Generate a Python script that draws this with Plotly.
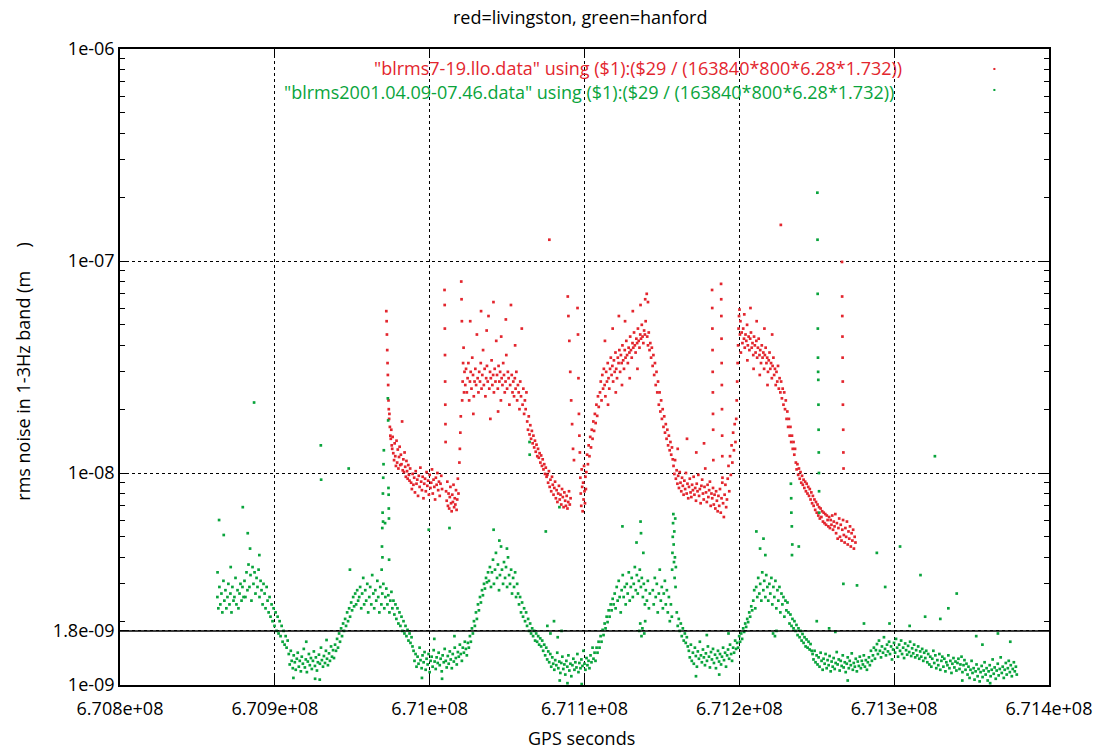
import plotly.graph_objects as go

TITLE = "red=livingston, green=hanford"
RED_LABEL = '"blrms7-19.llo.data" using ($1):($29 / (163840*800*6.28*1.732))'
GREEN_LABEL = '"blrms2001.04.09-07.46.data" using ($1):($29 / (163840*800*6.28*1.732))'
X_TITLE = "GPS seconds"
Y_TITLE = "rms noise in 1-3Hz band (m\u00a0\u00a0\u00a0\u00a0\u00a0)"

X_RANGE = [6.708e8, 6.714e8]
x_tick_vals = [6.708e8, 6.709e8, 6.710e8, 6.711e8, 6.712e8, 6.713e8, 6.714e8]
x_tick_text = ["6.708e+08", "6.709e+08", "6.71e+08", "6.711e+08", "6.712e+08", "6.713e+08", "6.714e+08"]
y_tick_vals = [1e-9, 1.8e-9, 1e-8, 1e-7, 1e-6]
y_tick_text = ["1e-09", "1.8e-09", "1e-08", "1e-07", "1e-06"]
y_minor_vals = [2e-9, 3e-9, 4e-9, 5e-9, 6e-9, 7e-9, 8e-9, 9e-9,
                2e-8, 3e-8, 4e-8, 5e-8, 6e-8, 7e-8, 8e-8, 9e-8,
                2e-7, 3e-7, 4e-7, 5e-7, 6e-7, 7e-7, 8e-7, 9e-7]
THRESHOLD = 1.8e-9

# ---------------- Livingston (red): GPS seconds / rms in nanometres ----------------
red_gps = [
    670972000, 670972200, 670972400, 670972600, 670972800, 670973000, 670973200, 670973400, 670973600, 670973800, 670974000, 670974300, 670974600, 670974900, 670975200, 670975500, 670975800, 670976100,
    670976500, 670977000, 670977400, 670977800, 670978200, 670978600, 670979000, 670979400, 670979800, 670980200, 670980600, 670981000, 670981400, 670981800, 670982200, 670982600, 670983000, 670983400, 670983800, 670984200, 670984600, 670985000, 670985400, 670985800, 670986200, 670986600, 670987000, 670987400,
    670988000, 670988500, 670989000, 670989500, 670990000, 670990500, 670991000, 670991500, 670992000, 670992500, 670993000, 670993500, 670994000, 670994500, 670995000, 670995500, 670996000, 670996500, 670997000, 670997500, 670998000, 670998500, 670999000, 670999500, 671000000, 671000500, 671001000, 671001500, 671002000, 671002500, 671003000, 671003500, 671004000, 671004500, 671005000, 671005500, 671006000, 671006500, 671007000, 671007500, 671008000,
    671009600, 671009700, 671009800, 671009900, 671010000, 671010100, 671010200, 671010300,
    671010600, 671011000, 671011400, 671011800, 671012200, 671012600, 671013000, 671013400, 671013800, 671014200, 671014600, 671015000, 671015400, 671015800, 671016200, 671016600, 671017000, 671017400, 671017800, 671018200, 671018600,
    671019200, 671019500, 671019800, 671020100, 671020400, 671020600, 671020800, 671021000, 671021300, 671021600, 671021900, 671022200, 671022500,
    671023000, 671023500, 671024000, 671024500, 671025000, 671025500, 671026000, 671026500, 671027000, 671027500, 671028000, 671028500, 671029000, 671029500, 671030000, 671030500, 671031000, 671031500, 671032000, 671032500,
    671033000, 671033500, 671034000, 671034500, 671035000, 671035500, 671036000, 671036500, 671037000, 671037500, 671038000, 671038500, 671039000, 671039500, 671040000, 671040500, 671041000, 671041500, 671042000, 671042500,
    671043000, 671043500, 671044000, 671044500, 671045000, 671045500, 671046000, 671046500, 671047000, 671047500, 671048000, 671048500, 671049000, 671049500, 671050000, 671050500, 671051000, 671051500, 671052000, 671052500,
    671053000, 671053500, 671054000, 671054500, 671055000, 671055500, 671056000, 671056500, 671057000, 671057500, 671058000, 671058500, 671059000, 671059500, 671060000, 671060500, 671061000, 671061500, 671062000, 671062500,
    671026200, 671033200, 671036800, 671041200, 671046200, 671049200, 671055200, 671028200, 671044200, 671039200,
    671063000, 671063500, 671064000, 671064500, 671065000, 671065500, 671066000, 671066500, 671067000, 671067500, 671068000, 671068500, 671069000, 671069500, 671070000, 671070500, 671071000, 671071500, 671072000, 671072500, 671073000, 671073500, 671074000, 671074500, 671075000, 671075500,
    671076000, 671076500, 671077000, 671077500, 671078000, 671078500, 671079000, 671079500, 671080000, 671080500, 671081000, 671081500, 671082000, 671082500, 671083000, 671083500, 671084000, 671084500, 671085000, 671085500, 671086000, 671086500, 671087000, 671087500, 671088000, 671088500, 671089000, 671089500, 671090000, 671090500, 671091000,
    671077300,
    671089200, 671089600, 671090200, 671090800, 671091400, 671092000, 671092600, 671093200, 671095500, 671095800, 671096100, 671096400, 671096700, 671097000,
    671097300, 671097600, 671097900, 671098200, 671098500, 671098800, 671099100, 671099400, 671099700, 671100000, 671100300, 671100600, 671100900, 671101200,
    671101700, 671102200, 671102700, 671103200, 671103700, 671104200, 671104700, 671105200, 671105700, 671106200, 671106700, 671107200, 671107700, 671108200, 671108700, 671109200,
    671110000, 671110500, 671111000, 671111500, 671112000, 671112500, 671113000, 671113500, 671114000, 671114500, 671115000, 671115500, 671116000, 671116500, 671117000, 671117500, 671118000, 671118500, 671119000, 671119500,
    671120000, 671120500, 671121000, 671121500, 671122000, 671122500, 671123000, 671123500, 671124000, 671124500, 671125000, 671125500, 671126000, 671126500, 671127000, 671127500, 671128000, 671128500, 671129000, 671129500,
    671130000, 671130500, 671131000, 671131500, 671132000, 671132500, 671133000, 671133500, 671134000, 671134500, 671135000, 671135500, 671136000, 671136500, 671137000, 671137500, 671138000, 671138500, 671139000, 671139500,
    671113200, 671118200, 671122200, 671126200, 671131200, 671136200, 671139200, 671140200, 671141000, 671115200, 671120200, 671124200, 671129200, 671134200,
    671140500, 671141000, 671141500, 671142000, 671142500, 671143000, 671143500, 671144000, 671144500, 671145000, 671145500, 671146000, 671146500, 671147000, 671147500, 671148000, 671148500, 671149000, 671149500, 671150000,
    671150500, 671151000, 671151500, 671152000, 671152500, 671153000, 671153500, 671154000, 671154500, 671155000, 671155500, 671156000, 671156500, 671157000,
    671157500, 671158000, 671158500, 671159000, 671159500, 671160000, 671160500, 671161000, 671161500, 671162000, 671162500, 671163000, 671163500, 671164000, 671164500, 671165000, 671165500, 671166000, 671166500, 671167000,
    671167500, 671168000, 671168500, 671169000, 671169500, 671170000, 671170500, 671171000, 671171500, 671172000, 671172500, 671173000, 671173500, 671174000, 671174500, 671175000, 671175500, 671176000, 671176500, 671177000,
    671177500, 671178000, 671178500, 671179000, 671179500, 671180000, 671180500, 671181000, 671181500, 671182000, 671182500, 671183000, 671183500, 671184000, 671184500, 671185000, 671185500, 671186000, 671186500, 671187000,
    671187500, 671188000, 671188500, 671189000, 671189500, 671190000, 671190500, 671191000, 671191500, 671192000, 671192500, 671193000, 671193500, 671194000, 671194500, 671195000, 671195500, 671196000, 671196500, 671197000,
    671197500,
    671160200, 671166200, 671172200, 671177200, 671183200,
    671182400, 671182500, 671182600, 671182700, 671182800, 671182900, 671183000, 671183100,
    671188200, 671188300, 671188400, 671188500, 671188600, 671188700, 671188800, 671188900, 671189000, 671189100,
    671198000, 671198300, 671198600, 671198900, 671199200, 671199500, 671199800, 671200100, 671200400, 671200700, 671201000,
    671201500, 671202000, 671202500, 671203000, 671203500, 671204000, 671204500, 671205000, 671205500, 671206000, 671206500, 671207000, 671207500, 671208000, 671208500, 671209000, 671209500, 671210000, 671210500, 671211000,
    671211500, 671212000, 671212500, 671213000, 671213500, 671214000, 671214500, 671215000, 671215500, 671216000, 671216500, 671217000, 671217500, 671218000, 671218500, 671219000, 671219500, 671220000, 671220500, 671221000,
    671221500, 671222000, 671222500, 671223000, 671223500, 671224000, 671224500, 671225000, 671225500, 671226000, 671226500, 671227000, 671227500, 671228000, 671228500, 671229000,
    671203200, 671207200, 671211200, 671216200, 671221200, 671205200, 671209200, 671213200, 671218200,
    671226800,
    671229500, 671230000, 671230500, 671231000, 671231500, 671232000, 671232500, 671233000, 671233500, 671234000, 671234500, 671235000, 671235500, 671236000,
    671236500, 671237000, 671237500, 671238000, 671238500, 671239000, 671239500, 671240000, 671240500, 671241000, 671241500, 671242000, 671242500, 671243000, 671243500, 671244000, 671244500, 671245000, 671245500, 671246000, 671246500, 671247000,
    671247500, 671248000, 671248500, 671249000, 671249500, 671250000, 671250500, 671251000, 671251500, 671252000, 671252500, 671253000, 671253500, 671254000, 671254500, 671255000, 671255500, 671256000, 671256500, 671257000,
    671257500, 671258000, 671258500, 671259000, 671259500, 671260000, 671260500, 671261000,
    671261500, 671262000, 671262500, 671263000, 671263500, 671264000, 671264500, 671265000, 671265500, 671266000, 671266500, 671267000, 671267500, 671268000, 671268500, 671269000, 671269500, 671270000, 671270500, 671271000,
    671271500, 671272000, 671272500, 671273000, 671273500, 671274000, 671274500, 671275000,
    671266300, 671266400, 671266500, 671266600, 671266700, 671266800, 671266900, 671267100, 671267200, 671267300,
]
red_rms_nm = [
    58, 52, 45, 38, 33, 29, 26, 22, 20, 18, 19, 16.5, 15, 14.5, 16, 13.5, 13, 14.8,
    12.4, 11.5, 13.8, 12.0, 10.8, 14.2, 11.2, 12.9, 10.5, 11.9, 13.3, 10.9, 12.2, 11.0, 17.5, 10.3, 11.6, 10.1, 12.5, 10.7, 9.6, 11.4, 10.2, 9.4, 10.9, 9.8, 9.2, 10.5,
    9.0, 8.4, 9.9, 8.8, 9.5, 8.1, 10.2, 8.9, 9.3, 7.8, 9.7, 8.6, 10.6, 9.1, 8.3, 9.6, 7.6, 8.9, 9.4, 8.2, 10.1, 8.7, 9.2, 7.9, 9.8, 8.5, 9.0, 10.4, 8.0, 9.3, 8.6, 7.5, 9.5, 8.8, 10.0, 8.3, 9.1, 7.8, 8.9, 9.7, 8.4,
    73, 62, 48, 36, 27, 21, 17, 14,
    8.2, 7.4, 9.1, 7.0, 8.0, 6.8, 7.7, 8.6, 7.2, 6.6, 7.9, 7.3, 8.8, 6.9, 7.6, 7.1, 8.3, 6.7, 7.5, 9.4, 8.0,
    11.2, 13.0, 15.5, 18.5, 80, 66, 52, 22, 27, 33, 39, 24, 30,
    26, 31, 24, 28, 33, 22, 27, 30, 25, 35, 29, 23, 27, 31, 26, 45, 28, 24, 30, 27,
    33, 25, 29, 38, 26, 31, 23, 28, 32, 27, 55, 25, 30, 28, 34, 26, 29, 24, 31, 27,
    42, 29, 25, 32, 27, 30, 22, 28, 26, 33, 29, 24, 27, 36, 25, 30, 28, 21, 26, 62,
    29, 24, 27, 23, 28, 25, 30, 22, 26, 24, 20, 27, 23, 48, 21, 25, 19, 22, 20, 24,
    52, 58, 47, 64, 44, 53, 40, 19, 19.5, 18,
    17.5, 16.0, 18.5, 15.2, 16.8, 14.5, 15.8, 13.8, 15.0, 13.2, 14.2, 12.6, 13.6, 12.0, 13.0, 11.8, 12.4, 11.2, 12.1, 10.8, 11.6, 10.4, 11.0, 9.9, 10.6, 9.6,
    9.8, 9.0, 10.2, 8.6, 9.3, 8.2, 9.6, 8.8, 7.9, 8.5, 9.1, 7.6, 8.3, 7.3, 8.0, 8.7, 7.5, 7.9, 7.1, 8.4, 7.7, 6.9, 8.1, 7.4, 7.0, 7.8, 6.8, 7.3, 8.2, 7.1, 7.6,
    126,
    68, 55, 42, 30, 22, 17, 13, 11.5, 60, 45, 28, 19, 15, 12.5,
    9.5, 8.0, 7.0, 10.4, 8.6, 6.6, 9.0, 7.5, 10.8, 8.2, 7.2, 9.6, 8.4, 10.1,
    12.2, 11.0, 13.5, 12.0, 14.8, 13.2, 16.0, 14.5, 17.5, 15.8, 19.0, 17.2, 21.0, 18.6, 23.0, 20.5,
    24, 27, 22, 29, 25, 31, 26, 23, 30, 27, 33, 28, 25, 31, 35, 29, 32, 27, 34, 30,
    37, 31, 28, 35, 33, 38, 30, 36, 33, 40, 34, 31, 38, 35, 42, 36, 33, 39, 37, 44,
    38, 35, 41, 39, 46, 40, 37, 43, 41, 48, 42, 39, 45, 43, 50, 44, 41, 47, 45, 52,
    42, 48, 55, 52, 58, 62, 66, 70, 64, 21, 24, 26, 28, 31,
    44, 40, 46, 38, 41, 35, 39, 32, 36, 29, 33, 26, 30, 24, 27, 21, 24, 19.5, 22, 18,
    20, 16.5, 18.5, 15.5, 17, 14.5, 16, 13.5, 15, 12.8, 14, 12.2, 13.2, 11.6,
    10.8, 9.9, 11.5, 9.4, 10.3, 8.9, 9.7, 8.5, 10.1, 9.0, 8.2, 9.5, 8.7, 7.9, 9.2, 8.4, 10.0, 8.0, 8.9, 7.6,
    8.6, 9.4, 8.1, 7.7, 8.8, 8.3, 9.6, 7.9, 8.5, 7.4, 8.9, 8.2, 9.8, 7.8, 8.4, 7.2, 8.7, 9.3, 8.0, 7.5,
    8.6, 10.5, 8.1, 7.3, 8.8, 7.7, 8.3, 9.1, 7.0, 8.0, 7.6, 8.5, 7.1, 7.9, 6.8, 8.2, 7.4, 6.6, 7.8, 7.0,
    8.4, 6.5, 7.6, 9.0, 7.2, 6.2, 7.9, 8.8, 6.9, 7.5, 9.4, 10.8, 8.2, 12.0, 9.8, 13.5, 11.2, 15.5, 12.8, 17.0,
    14.0,
    13, 14.5, 12.5, 13.8, 11.5,
    73, 60, 48, 38, 30, 24, 19, 16,
    78, 66, 55, 43, 33, 26, 20, 15, 12, 9.5,
    18, 22, 27, 33, 40, 48, 55, 59, 45, 52, 37,
    46, 41, 48, 43, 39, 45, 42, 50, 40, 44, 38, 43, 46, 39, 41, 36, 44, 40, 37, 42,
    35, 39, 43, 36, 38, 33, 40, 35, 37, 31, 36, 39, 33, 35, 30, 34, 37, 31, 33, 28,
    32, 35, 29, 31, 26, 30, 27, 32, 25, 28, 24, 27, 22.5, 25, 21, 24,
    56, 60, 52, 48, 45, 34, 31, 29, 26,
    148,
    20, 22, 18, 19.5, 16.5, 18, 15, 16.5, 14, 15, 13, 14, 12.2, 13,
    11.2, 10.4, 11.0, 9.8, 10.5, 9.4, 10.1, 9.0, 9.7, 8.8, 9.3, 8.5, 9.1, 8.2, 8.9, 8.0, 8.6, 7.8, 8.4, 7.5, 8.1, 7.2,
    7.8, 7.0, 7.5, 6.7, 7.3, 6.5, 7.1, 6.3, 6.9, 6.1, 6.8, 6.2, 6.6, 5.9, 6.5, 5.8, 6.4, 5.7, 6.3, 6.0,
    5.6, 6.2, 5.5, 6.0, 5.7, 6.3, 5.4, 5.9,
    5.6, 6.4, 5.2, 5.8, 4.9, 5.5, 6.1, 5.0, 5.7, 4.8, 5.4, 6.0, 5.1, 4.7, 5.5, 5.0, 5.9, 4.6, 5.3, 4.9,
    5.6, 4.5, 5.2, 4.8, 5.4, 4.4, 5.0, 4.7,
    99, 68, 55, 44, 35, 27, 21, 16, 12.5, 10.5,
]

# ---------------- Hanford (green): GPS seconds / rms in nanometres ----------------
green_gps = [
    670862900, 670863500, 670864200, 670864800, 670865500, 670866100, 670866800, 670867400, 670868100, 670868700, 670869400, 670870000, 670870700, 670871300, 670872000, 670872600, 670873300, 670873900, 670874600, 670875200, 670875900, 670876500, 670877200, 670877800, 670878500, 670879100, 670879800,
    670864000, 670867000, 670871500, 670863000,
    670880400, 670881000, 670881700, 670882300, 670883000, 670883600, 670884300, 670884900, 670885600, 670886200, 670886900, 670887500, 670888200, 670888800, 670889500, 670890100, 670890800, 670891400, 670892100, 670892700, 670893400, 670894000, 670894700, 670895300, 670896000,
    670879300, 670886600, 670884000, 670890000, 670882500,
    670896600, 670897200, 670897900, 670898500, 670899200, 670899800, 670900500, 670901100, 670901800, 670902400, 670903100, 670903700, 670904400, 670905000, 670905700, 670906300, 670907000, 670907600, 670908300,
    670909000, 670909600, 670910300, 670910900, 670911600, 670912200, 670912900, 670913500, 670914200, 670914800, 670915500, 670916100, 670916800, 670917400, 670918100, 670918700, 670919400, 670920000, 670920700, 670921300,
    670922000, 670922600, 670923300, 670923900, 670924600, 670925200, 670925900, 670926500, 670927200, 670927800, 670928500, 670929100, 670929800, 670930400, 670931100, 670931700, 670932400, 670933000, 670933700, 670934300,
    670935000, 670935600, 670936300, 670936900, 670937600, 670938200,
    670912000, 670920300, 670926000, 670933400, 670929000, 670929700, 670929900,
    670938900, 670939500, 670940200, 670940800, 670941500, 670942100, 670942800, 670943400, 670944100, 670944700, 670945400, 670946000, 670946700, 670947300, 670948000, 670948600, 670949300, 670949900, 670950600, 670951200, 670951900, 670952500, 670953200, 670953800,
    670947700, 670948500,
    670954500, 670955100, 670955800, 670956400, 670957100, 670957700, 670958400, 670959000, 670959700, 670960300, 670961000, 670961600, 670962300, 670962900, 670963600, 670964200, 670964900, 670965500, 670966200, 670966800,
    670967500, 670968100, 670968800, 670969400, 670970100, 670970700, 670971400, 670972000, 670972700, 670973300, 670974000, 670974600, 670975300, 670975900,
    670969000, 670969200, 670969400, 670969600, 670969800, 670970000, 670970200, 670970400, 670969500, 670969900,
    670973000, 670973200, 670973400, 670973500, 670973600, 670973700, 670973800, 670971200,
    670976600, 670977200, 670977900, 670978500, 670979200, 670979800, 670980500, 670981100, 670981800, 670982400, 670983100, 670983700, 670984400, 670985000, 670985700, 670986300, 670987000, 670987600, 670988300, 670988900,
    670989600, 670990200, 670990900, 670991500, 670992200, 670992800, 670993500, 670994100, 670994800, 670995400, 670996100, 670996700, 670997400, 670998000, 670998700, 670999300, 671000000, 671000600, 671001300, 671001900,
    671002600, 671003200, 671003900, 671004500, 671005200, 671005800, 671006500, 671007100, 671007800, 671008400, 671009100, 671009700, 671010400, 671011000, 671011700, 671012300, 671013000, 671013600, 671014300, 671014900,
    671015600, 671016200, 671016900, 671017500, 671018200, 671018800, 671019500, 671020100, 671020800, 671021400, 671022100, 671022700, 671023400, 671024000, 671024700, 671025300,
    670999400, 671012800, 670995000, 671008000, 671016000, 671003000,
    671026000, 671026600, 671027300, 671027900, 671028600, 671029200, 671029900, 671030500, 671031200, 671031800, 671032500, 671033100, 671033800, 671034400, 671035100, 671035700, 671036400, 671037000, 671037700,
    671038300, 671038900, 671039600, 671040200, 671040900, 671041500, 671042200, 671042800, 671043500, 671044100, 671044800, 671045400, 671046100, 671046700, 671047400, 671048000, 671048700, 671049300, 671050000, 671050600,
    671051300, 671051900, 671052600, 671053200, 671053900, 671054500, 671055200, 671055800, 671056500,
    671041300, 671045000, 671049900,
    671057100, 671057700, 671058400, 671059000, 671059700, 671060300, 671061000, 671061600, 671062300, 671062900, 671063600, 671064200, 671064900, 671065500, 671066200, 671066800, 671067500, 671068100, 671068800, 671069400, 671070100, 671070700, 671071400, 671072000,
    671064500, 671064600, 671075000, 671083800,
    671072700, 671073300, 671074000, 671074600, 671075300, 671075900, 671076600, 671077200, 671077900, 671078500, 671079200, 671079800, 671080500, 671081100, 671081800, 671082400, 671083100, 671083700, 671084400, 671085000,
    671085700, 671086300, 671087000, 671087600, 671088300, 671088900, 671089600, 671090200, 671090900, 671091500, 671092200, 671092800, 671093500, 671094100, 671094800, 671095400, 671096100, 671096700, 671097400, 671098000,
    671098700, 671099300, 671100000, 671100600, 671101300, 671101900, 671102600, 671103200, 671103900, 671104500, 671105200, 671105800, 671106500, 671107100,
    671076000, 671078000, 671080300, 671082700, 671085200, 671089000, 671098200, 671084000,
    671107800, 671108400, 671109100, 671109700, 671110400, 671111000, 671111700, 671112300, 671113000, 671113600, 671114300, 671114900, 671115600, 671116200, 671116900, 671117500, 671118200, 671118800,
    671119500, 671120100, 671120800, 671121400, 671122100, 671122700, 671123400, 671124000, 671124700, 671125300, 671126000, 671126600, 671127300, 671127900, 671128600, 671129200, 671129900, 671130500, 671131200, 671131800,
    671132500, 671133100, 671133800, 671134400, 671135100, 671135700, 671136400, 671137000, 671137700, 671138300, 671139000, 671139600, 671140300, 671140900, 671141600, 671142200,
    671135400, 671136000, 671136800, 671137400, 671138600, 671139200,
    671124500, 671136200, 671136500, 671133600, 671138000,
    671144100, 671144700, 671145400, 671146000, 671146700, 671147300, 671148000, 671148600, 671149300, 671149900, 671150600, 671151200, 671151900, 671152500, 671153200, 671153800, 671154500, 671155100, 671155800, 671156400,
    671156600, 671156800, 671157000, 671157200, 671157400, 671157600, 671157800, 671158000, 671158200, 671158400, 671158600, 671158800, 671159000,
    671159600, 671160200, 671160900, 671161500, 671162200, 671162800, 671163500, 671164100, 671164800, 671165400, 671166100, 671166700,
    671167400, 671168000, 671168700, 671169300, 671170000, 671170600, 671171300, 671171900, 671172600, 671173200, 671173900, 671174500, 671175200, 671175800, 671176500, 671177100, 671177800, 671178400, 671179100, 671179700,
    671180400, 671181000, 671181700, 671182300, 671183000, 671183600, 671184300, 671184900, 671185600, 671186200, 671186900, 671187500, 671188200, 671188800, 671189500, 671190100, 671190800, 671191400, 671192100, 671192700,
    671193400, 671194000, 671194700, 671195300, 671196000, 671196600, 671197300, 671197900, 671198600, 671199200, 671199900, 671200500,
    671172000, 671179000, 671187000, 671193000,
    671201200, 671201800, 671202500, 671203100, 671203800, 671204400, 671205100, 671205700, 671206400, 671207000, 671207700, 671208300,
    671209000, 671209600, 671210300, 671210900, 671211600, 671212200, 671212900, 671213500, 671214200, 671214800, 671215500, 671216100, 671216800, 671217400, 671218100, 671218700, 671219400, 671220000, 671220700, 671221300,
    671222000, 671222600, 671223300, 671223900, 671224600, 671225200, 671225900, 671226500, 671227200, 671227800, 671228500, 671229100, 671229800, 671230400, 671231100,
    671221800, 671223000, 671224000,
    671211000, 671213400, 671215600, 671216800,
    671233300, 671233500, 671233600, 671233900, 671234000, 671234200, 671238400,
    671231700, 671232400, 671233000, 671233700, 671234300, 671235000, 671235600, 671236300, 671236900, 671237600, 671238200, 671238900, 671239500, 671240200, 671240800, 671241500, 671242100, 671242800, 671243400, 671244100,
    671244700, 671245400, 671246000, 671246700,
    671247300, 671247900, 671248600, 671249200, 671249900, 671250500, 671251200, 671251800, 671252500, 671253100, 671253800, 671254400, 671255100, 671255700, 671256400, 671257000, 671257700, 671258300, 671259000, 671259600,
    671260300, 671260900, 671261600, 671262200, 671262900, 671263500, 671264200, 671264800, 671265500, 671266100, 671266800, 671267400, 671268100, 671268700, 671269400, 671270000, 671270700, 671271300, 671272000, 671272600,
    671273300, 671273900, 671274600, 671275200, 671275900, 671276500, 671277200, 671277800, 671278500, 671279100, 671279800, 671280400, 671281100, 671281700, 671282400, 671283000, 671283700, 671284300, 671285000, 671285600,
    671286300, 671286900, 671287600, 671288200, 671288900, 671289500, 671290200, 671290800, 671291500, 671292100, 671292800, 671293400, 671294100, 671294700, 671295400, 671296000, 671296700, 671297300, 671298000, 671298600,
    671299300, 671299900, 671300600, 671301200, 671301900, 671302500, 671303200, 671303800, 671304500, 671305100, 671305800, 671306400, 671307100, 671307700, 671308400, 671309000, 671309700, 671310300, 671311000, 671311600,
    671312300, 671312900, 671313600, 671314200, 671314900, 671315500, 671316200, 671316800, 671317500, 671318100, 671318800, 671319400, 671320100, 671320700,
    671321400, 671322000, 671322700, 671323300, 671324000, 671324600, 671325300, 671325900, 671326600, 671327200, 671327900, 671328500, 671329200, 671329800, 671330500, 671331100, 671331800, 671332400, 671333100, 671333700,
    671334400, 671335000, 671335700, 671336300, 671337000, 671337600, 671338300, 671338900, 671339600, 671340200, 671340900, 671341500, 671342200, 671342800, 671343500, 671344100, 671344800, 671345400, 671346100, 671346700,
    671347400, 671348000, 671348700, 671349300, 671350000, 671350600, 671351300, 671351900, 671352600, 671353200, 671353900, 671354500, 671355200, 671355800, 671356500, 671357100, 671357800, 671358400, 671359100, 671359700,
    671360400, 671361000, 671361700, 671362300, 671363000, 671363600, 671364300, 671364900, 671365600, 671366200, 671366900, 671367500, 671368200, 671368800, 671369500, 671370100, 671370800, 671371400, 671372100, 671372700,
    671373400, 671374000, 671374700, 671375300, 671376000, 671376600, 671377300, 671377900, 671378600, 671379200,
    671250400, 671250500, 671250600, 671250700, 671250800, 671250900, 671251000, 671251100, 671251200, 671251300, 671251400, 671251500, 671251600,
    671303800, 671326300, 671340400, 671294200, 671276000, 671267200, 671258000, 671297000, 671310000, 671320000,
    671353000, 671367000, 671335000, 671357000, 671375000, 671344000, 671362000, 671270000, 671262000, 671280500,
    671317000, 671329800, 671288800, 671250000,
]
green_rms_nm = [
    2.6, 2.3, 2.9, 2.4, 2.7, 2.2, 3.1, 2.5, 2.8, 2.3, 2.6, 3.0, 2.4, 2.7, 2.2, 2.9, 2.5, 2.6, 3.2, 2.4, 2.8, 2.3, 2.7, 3.0, 2.5, 2.9, 2.6,
    6.0, 5.1, 3.6, 3.4,
    3.1, 2.6, 3.4, 2.8, 3.7, 2.9, 3.3, 2.5, 3.6, 3.0, 3.4, 2.7, 3.2, 2.9, 3.5, 2.6, 3.1, 2.8, 2.4, 3.0, 2.7, 2.3, 2.9, 2.5, 2.2,
    6.9, 21.5, 4.4, 4.1, 5.2,
    2.6, 2.1, 2.4, 2.0, 2.3, 1.9, 2.2, 1.8, 2.1, 1.75, 2.0, 1.7, 1.9, 1.6, 1.8, 1.55, 1.7, 1.5, 1.62,
    1.4, 1.25, 1.45, 1.3, 1.2, 1.38, 1.28, 1.18, 1.33, 1.42, 1.22, 1.3, 1.16, 1.36, 1.26, 1.48, 1.21, 1.32, 1.15, 1.29,
    1.4, 1.24, 1.34, 1.19, 1.3, 1.44, 1.23, 1.35, 1.17, 1.28, 1.39, 1.26, 1.5, 1.31, 1.22, 1.37, 1.27, 1.45, 1.33, 1.24,
    1.41, 1.3, 1.52, 1.36, 1.46, 1.34,
    1.08, 1.6, 1.07, 1.63, 1.06, 13.5, 9.3,
    1.55, 1.45, 1.65, 1.5, 1.75, 1.6, 1.85, 1.7, 1.95, 1.8, 2.05, 1.9, 2.2, 2.0, 2.3, 2.1, 2.45, 2.25, 2.6, 2.35, 2.7, 2.4, 2.8, 2.5,
    10.5, 3.5,
    2.6, 2.9, 2.3, 2.7, 3.2, 2.4, 2.8, 2.5, 3.0, 2.2, 2.6, 2.9, 2.4, 3.3, 2.7, 2.3, 2.8, 2.5, 3.1, 2.6,
    2.2, 2.9, 2.4, 2.7, 3.0, 2.3, 2.6, 2.85, 2.4, 2.65, 2.2, 2.5, 2.75, 2.3,
    3.5, 4.5, 5.5, 6.5, 8.0, 9.5, 11.0, 12.8, 4.0, 5.9,
    22.5, 17.7, 8.5, 7.9, 6.8, 6.1, 3.9, 5.8,
    2.5, 2.15, 2.4, 2.05, 2.3, 1.95, 2.2, 1.9, 2.1, 1.8, 2.0, 1.75, 1.9, 1.7, 1.82, 1.62, 1.75, 1.58, 1.68, 1.52,
    1.45, 1.3, 1.4, 1.22, 1.36, 1.26, 1.5, 1.31, 1.2, 1.38, 1.28, 1.43, 1.18, 1.33, 1.25, 1.4, 1.15, 1.3, 1.36, 1.22,
    1.46, 1.29, 1.19, 1.35, 1.27, 1.42, 1.24, 1.33, 1.16, 1.38, 1.28, 1.48, 1.3, 1.21, 1.37, 1.26, 1.44, 1.32, 1.2, 1.4,
    1.29, 1.5, 1.34, 1.25, 1.43, 1.36, 1.55, 1.4, 1.3, 1.5, 1.42, 1.6, 1.48, 1.38, 1.58, 1.5,
    5.4, 5.5, 1.08, 1.07, 1.7, 1.65,
    1.7, 1.6, 1.85, 1.75, 2.0, 1.9, 2.2, 2.05, 2.4, 2.25, 2.6, 2.45, 2.8, 2.65, 3.0, 2.85, 3.2, 3.05, 3.4,
    3.1, 3.6, 2.9, 3.4, 3.9, 3.0, 3.5, 4.2, 3.2, 3.7, 2.8, 3.3, 4.5, 3.5, 3.0, 3.8, 3.2, 3.6, 2.9, 4.0,
    3.3, 3.0, 3.5, 2.7, 3.2, 2.9, 3.4, 2.6, 3.0,
    5.4, 4.8, 4.4,
    2.7, 2.4, 2.6, 2.2, 2.45, 2.1, 2.3, 2.0, 2.2, 1.9, 2.05, 1.8, 1.95, 1.75, 1.85, 1.7, 1.8, 1.62, 1.75, 1.6, 1.7, 1.55, 1.66, 1.52,
    14.0, 12.2, 5.3, 6.9,
    1.62, 1.45, 1.55, 1.38, 1.5, 1.32, 1.44, 1.28, 1.4, 1.22, 1.35, 1.26, 1.18, 1.31, 1.24, 1.42, 1.2, 1.29, 1.14, 1.27,
    1.36, 1.19, 1.25, 1.12, 1.3, 1.22, 1.38, 1.17, 1.26, 1.1, 1.24, 1.33, 1.18, 1.28, 1.21, 1.4, 1.15, 1.27, 1.2, 1.32,
    1.23, 1.45, 1.26, 1.18, 1.34, 1.24, 1.3, 1.2, 1.38, 1.28, 1.5, 1.33, 1.42, 1.3,
    1.9, 1.75, 2.0, 1.68, 1.8, 1.02, 1.01, 1.05,
    1.5, 1.42, 1.6, 1.5, 1.7, 1.6, 1.82, 1.72, 1.95, 1.85, 2.1, 1.98, 2.25, 2.1, 2.4, 2.25, 2.55, 2.4,
    2.7, 2.3, 2.9, 2.5, 3.1, 2.6, 2.2, 2.8, 3.3, 2.6, 2.9, 2.4, 3.0, 2.7, 3.4, 2.5, 2.9, 3.2, 2.6, 3.0,
    3.6, 2.8, 3.3, 2.7, 3.1, 3.5, 2.9, 3.2, 2.6, 3.0, 2.4, 2.8, 2.5, 3.1, 2.3, 2.7,
    1.8, 1.95, 1.7, 1.85, 1.75, 2.0,
    5.6, 5.9, 5.2, 4.7, 4.2,
    2.8, 2.4, 3.2, 2.6, 3.0, 2.2, 2.7, 3.5, 2.5, 2.9, 2.3, 2.7, 3.1, 2.4, 2.8, 2.2, 2.6, 2.0, 2.4, 2.1,
    3.5, 4.2, 5.0, 5.8, 6.4, 4.6, 3.8, 5.3, 3.2, 4.0, 6.1, 2.9, 3.6,
    2.2, 1.9, 2.05, 1.8, 1.95, 1.7, 1.85, 1.62, 1.75, 1.58, 1.68, 1.52,
    1.45, 1.35, 1.55, 1.3, 1.42, 1.26, 1.5, 1.37, 1.22, 1.44, 1.33, 1.6, 1.38, 1.28, 1.47, 1.35, 1.24, 1.41, 1.3, 1.52,
    1.36, 1.21, 1.43, 1.32, 1.48, 1.27, 1.39, 1.2, 1.34, 1.45, 1.29, 1.4, 1.25, 1.36, 1.5, 1.31, 1.42, 1.22, 1.38, 1.47,
    1.33, 1.55, 1.4, 1.3, 1.5, 1.42, 1.62, 1.48, 1.58, 1.5, 1.7, 1.6,
    1.1, 1.72, 1.12, 1.75,
    1.75, 1.65, 1.85, 1.78, 1.95, 1.88, 2.05, 1.98, 2.2, 2.1, 2.35, 2.25,
    2.5, 2.8, 2.3, 2.9, 2.6, 3.2, 2.7, 3.0, 2.5, 3.4, 2.8, 3.1, 2.6, 3.3, 2.9, 2.5, 3.0, 2.7, 3.2, 2.4,
    2.9, 2.6, 3.1, 2.3, 2.8, 2.5, 2.9, 2.2, 2.7, 2.4, 2.6, 2.1, 2.5, 2.25, 2.45,
    1.75, 1.7, 1.8,
    5.3, 4.4, 4.9, 4.1,
    8.9, 7.6, 6.5, 5.6, 4.1, 4.6, 4.5,
    2.2, 1.95, 2.15, 1.9, 2.05, 1.85, 2.0, 1.8, 1.92, 1.72, 1.85, 1.68, 1.8, 1.62, 1.74, 1.58, 1.68, 1.52, 1.64, 1.5,
    1.6, 1.47, 1.56, 1.45,
    1.4, 1.32, 1.45, 1.28, 1.38, 1.25, 1.35, 1.22, 1.42, 1.3, 1.18, 1.33, 1.26, 1.4, 1.2, 1.31, 1.24, 1.37, 1.16, 1.29,
    1.22, 1.34, 1.19, 1.27, 1.43, 1.25, 1.32, 1.17, 1.3, 1.23, 1.38, 1.21, 1.28, 1.15, 1.26, 1.35, 1.2, 1.3, 1.24, 1.41,
    1.18, 1.27, 1.22, 1.33, 1.16, 1.29, 1.23, 1.36, 1.2, 1.3, 1.25, 1.38, 1.22, 1.31, 1.18, 1.28, 1.35, 1.24, 1.45, 1.3,
    1.38, 1.5, 1.33, 1.46, 1.56, 1.4, 1.62, 1.45, 1.35, 1.52, 1.42, 1.68, 1.48, 1.38, 1.55, 1.44, 1.6, 1.4, 1.52, 1.32,
    1.47, 1.58, 1.42, 1.65, 1.5, 1.36, 1.55, 1.45, 1.62, 1.4, 1.5, 1.34, 1.57, 1.46, 1.39, 1.53, 1.43, 1.6, 1.37, 1.49,
    1.41, 1.55, 1.35, 1.46, 1.38, 1.52, 1.33, 1.44, 1.36, 1.48, 1.3, 1.42, 1.34, 1.45,
    1.28, 1.4, 1.25, 1.36, 1.22, 1.33, 1.45, 1.27, 1.38, 1.2, 1.31, 1.24, 1.4, 1.18, 1.3, 1.36, 1.22, 1.33, 1.16, 1.28,
    1.24, 1.38, 1.2, 1.3, 1.14, 1.26, 1.34, 1.21, 1.29, 1.17, 1.27, 1.33, 1.19, 1.25, 1.36, 1.15, 1.24, 1.31, 1.18, 1.26,
    1.12, 1.22, 1.08, 1.18, 1.3, 1.14, 1.2, 1.06, 1.16, 1.25, 1.1, 1.19, 1.04, 1.15, 1.23, 1.09, 1.17, 1.28, 1.12, 1.2,
    1.05, 1.16, 1.24, 1.1, 1.18, 1.32, 1.13, 1.21, 1.07, 1.17, 1.26, 1.11, 1.19, 1.35, 1.14, 1.22, 1.08, 1.18, 1.27, 1.12,
    1.2, 1.3, 1.15, 1.24, 1.1, 1.19, 1.28, 1.16, 1.22, 1.12,
    210, 126, 70, 48, 35, 30, 27.5, 21, 16, 12.5, 10, 8.2, 6.5,
    4.5, 12.0, 2.7, 2.9, 2.95, 3.0, 1.85, 1.95, 1.9, 2.1,
    1.7, 1.75, 2.3, 1.55, 1.6, 1.05, 1.02, 1.05, 1.78, 1.95,
    3.3, 2.05, 4.2, 2.0,
]

assert len(red_gps) == len(red_rms_nm), (len(red_gps), len(red_rms_nm))
assert len(green_gps) == len(green_rms_nm), (len(green_gps), len(green_rms_nm))

NM = 1e-9
red_rms = [v * NM for v in red_rms_nm]
green_rms = [v * NM for v in green_rms_nm]

RED = "#e3262e"
GREEN = "#09a43c"
FONT = "Open Sans"

fig = go.Figure()
fig.add_trace(go.Scatter(x=red_gps, y=red_rms, mode="markers", showlegend=False,
                         marker=dict(symbol="square", size=2.7, color=RED, line=dict(width=0))))
fig.add_trace(go.Scatter(x=green_gps, y=green_rms, mode="markers", showlegend=False,
                         marker=dict(symbol="square", size=2.7, color=GREEN, line=dict(width=0))))
fig.add_trace(go.Scatter(x=X_RANGE, y=[THRESHOLD, THRESHOLD], mode="lines", showlegend=False,
                         line=dict(color="black", width=1.5), hoverinfo="skip"))

axis_common = dict(
    showline=True, linecolor="black", linewidth=1.5, mirror="ticks",
    ticks="inside", ticklen=9, tickwidth=1, tickcolor="black",
    showgrid=True, gridcolor="black", griddash="dot", gridwidth=1,
    zeroline=False, tickfont=dict(family=FONT, size=18, color="black"),
)

fig.update_layout(
    width=1104, height=751,
    margin=dict(l=120, r=49, t=49, b=66),
    paper_bgcolor="white", plot_bgcolor="white",
    font=dict(family=FONT, size=18, color="black"),
    xaxis=dict(range=X_RANGE, tickmode="array", tickvals=x_tick_vals, ticktext=x_tick_text,
               ticklabelstandoff=7, **axis_common),
    yaxis=dict(type="log", range=[-9, -6], tickmode="array", tickvals=y_tick_vals, ticktext=y_tick_text,
               minor=dict(tickmode="array", tickvals=y_minor_vals, ticks="inside", ticklen=5,
                          tickcolor="black", showgrid=False),
               **axis_common),
    annotations=[
        dict(text=TITLE, xref="paper", yref="paper", x=0.495, y=1.050, xanchor="center", yanchor="middle",
             showarrow=False, font=dict(family=FONT, size=18, color="black")),
        dict(text=RED_LABEL, xref="paper", yref="paper", x=0.8428, y=0.9700, xanchor="right", yanchor="middle",
             borderpad=0, showarrow=False, font=dict(family=FONT, size=18, color=RED)),
        dict(text=GREEN_LABEL, xref="paper", yref="paper", x=0.8342, y=0.9324, xanchor="right", yanchor="middle",
             borderpad=0, showarrow=False, font=dict(family=FONT, size=18, color=GREEN)),
        dict(text=X_TITLE, xref="paper", yref="paper", x=0.497, y=-0.083, xanchor="center", yanchor="middle",
             showarrow=False, font=dict(family=FONT, size=18, color="black")),
        dict(text=Y_TITLE, xref="paper", yref="paper", x=-0.1048, y=0.492, xanchor="center", yanchor="middle",
             textangle=-90, showarrow=False, font=dict(family=FONT, size=18, color="black")),
    ],
    shapes=[
        dict(type="rect", xref="paper", yref="paper", x0=0.9401, x1=0.9423, y0=0.9670, y1=0.9702,
             fillcolor=RED, line=dict(width=0)),
        dict(type="rect", xref="paper", yref="paper", x0=0.9401, x1=0.9423, y0=0.9340, y1=0.9372,
             fillcolor=GREEN, line=dict(width=0)),
    ],
)

fig.write_html("out.html")
